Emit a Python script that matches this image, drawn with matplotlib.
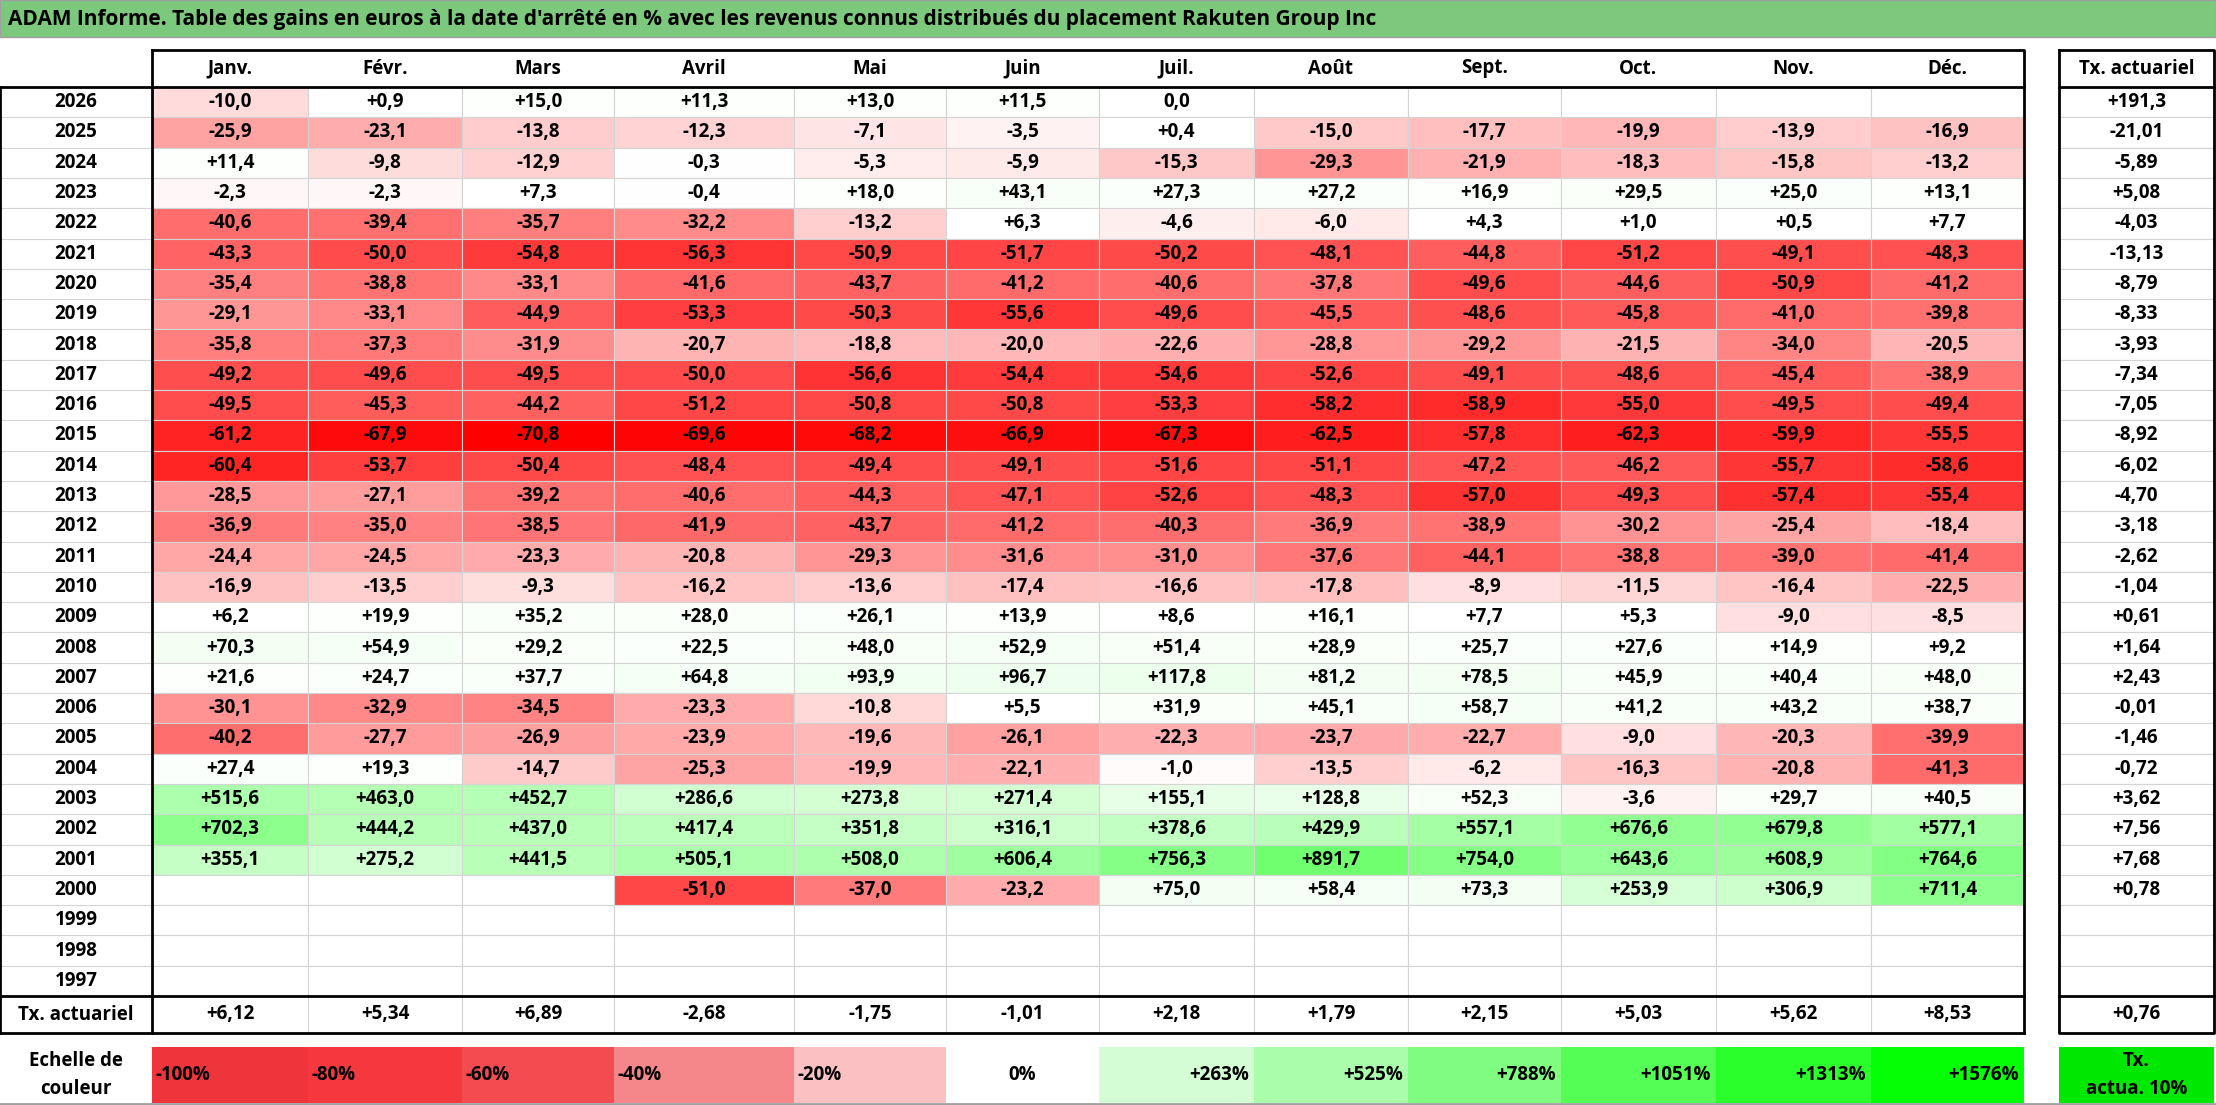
import matplotlib
matplotlib.use("Agg")
import matplotlib.pyplot as plt
from matplotlib.patches import Rectangle

plt.rcParams["font.family"] = ["Open Sans", "DejaVu Sans"]

TITLE = ("ADAM Informe. Table des gains en euros à la date d'arrêté en % avec les revenus "
         "connus distribués du placement Rakuten Group Inc")
MONTHS = ["Janv.", "Févr.", "Mars", "Avril", "Mai", "Juin", "Juil.", "Août",
          "Sept.", "Oct.", "Nov.", "Déc."]
YEARS = list(range(2026, 1996, -1))
N = None
VALUES = [
    [-10.0, 0.9, 15.0, 11.3, 13.0, 11.5, 0.0, N, N, N, N, N],
    [-25.9, -23.1, -13.8, -12.3, -7.1, -3.5, 0.4, -15.0, -17.7, -19.9, -13.9, -16.9],
    [11.4, -9.8, -12.9, -0.3, -5.3, -5.9, -15.3, -29.3, -21.9, -18.3, -15.8, -13.2],
    [-2.3, -2.3, 7.3, -0.4, 18.0, 43.1, 27.3, 27.2, 16.9, 29.5, 25.0, 13.1],
    [-40.6, -39.4, -35.7, -32.2, -13.2, 6.3, -4.6, -6.0, 4.3, 1.0, 0.5, 7.7],
    [-43.3, -50.0, -54.8, -56.3, -50.9, -51.7, -50.2, -48.1, -44.8, -51.2, -49.1, -48.3],
    [-35.4, -38.8, -33.1, -41.6, -43.7, -41.2, -40.6, -37.8, -49.6, -44.6, -50.9, -41.2],
    [-29.1, -33.1, -44.9, -53.3, -50.3, -55.6, -49.6, -45.5, -48.6, -45.8, -41.0, -39.8],
    [-35.8, -37.3, -31.9, -20.7, -18.8, -20.0, -22.6, -28.8, -29.2, -21.5, -34.0, -20.5],
    [-49.2, -49.6, -49.5, -50.0, -56.6, -54.4, -54.6, -52.6, -49.1, -48.6, -45.4, -38.9],
    [-49.5, -45.3, -44.2, -51.2, -50.8, -50.8, -53.3, -58.2, -58.9, -55.0, -49.5, -49.4],
    [-61.2, -67.9, -70.8, -69.6, -68.2, -66.9, -67.3, -62.5, -57.8, -62.3, -59.9, -55.5],
    [-60.4, -53.7, -50.4, -48.4, -49.4, -49.1, -51.6, -51.1, -47.2, -46.2, -55.7, -58.6],
    [-28.5, -27.1, -39.2, -40.6, -44.3, -47.1, -52.6, -48.3, -57.0, -49.3, -57.4, -55.4],
    [-36.9, -35.0, -38.5, -41.9, -43.7, -41.2, -40.3, -36.9, -38.9, -30.2, -25.4, -18.4],
    [-24.4, -24.5, -23.3, -20.8, -29.3, -31.6, -31.0, -37.6, -44.1, -38.8, -39.0, -41.4],
    [-16.9, -13.5, -9.3, -16.2, -13.6, -17.4, -16.6, -17.8, -8.9, -11.5, -16.4, -22.5],
    [6.2, 19.9, 35.2, 28.0, 26.1, 13.9, 8.6, 16.1, 7.7, 5.3, -9.0, -8.5],
    [70.3, 54.9, 29.2, 22.5, 48.0, 52.9, 51.4, 28.9, 25.7, 27.6, 14.9, 9.2],
    [21.6, 24.7, 37.7, 64.8, 93.9, 96.7, 117.8, 81.2, 78.5, 45.9, 40.4, 48.0],
    [-30.1, -32.9, -34.5, -23.3, -10.8, 5.5, 31.9, 45.1, 58.7, 41.2, 43.2, 38.7],
    [-40.2, -27.7, -26.9, -23.9, -19.6, -26.1, -22.3, -23.7, -22.7, -9.0, -20.3, -39.9],
    [27.4, 19.3, -14.7, -25.3, -19.9, -22.1, -1.0, -13.5, -6.2, -16.3, -20.8, -41.3],
    [515.6, 463.0, 452.7, 286.6, 273.8, 271.4, 155.1, 128.8, 52.3, -3.6, 29.7, 40.5],
    [702.3, 444.2, 437.0, 417.4, 351.8, 316.1, 378.6, 429.9, 557.1, 676.6, 679.8, 577.1],
    [355.1, 275.2, 441.5, 505.1, 508.0, 606.4, 756.3, 891.7, 754.0, 643.6, 608.9, 764.6],
    [N, N, N, -51.0, -37.0, -23.2, 75.0, 58.4, 73.3, 253.9, 306.9, 711.4],
    [N] * 12, [N] * 12, [N] * 12,
]
TX_YEAR = ["+191,3", "-21,01", "-5,89", "+5,08", "-4,03", "-13,13", "-8,79", "-8,33",
           "-3,93", "-7,34", "-7,05", "-8,92", "-6,02", "-4,70", "-3,18", "-2,62",
           "-1,04", "+0,61", "+1,64", "+2,43", "-0,01", "-1,46", "-0,72", "+3,62",
           "+7,56", "+7,68", "+0,78", "", "", ""]
TX_MONTH = ["+6,12", "+5,34", "+6,89", "-2,68", "-1,75", "-1,01", "+2,18", "+1,79",
            "+2,15", "+5,03", "+5,62", "+8,53"]
TX_ALL = "+0,76"
SCALE_LABELS = ["-100%", "-80%", "-60%", "-40%", "-20%", "0%", "+263%", "+525%",
                "+788%", "+1051%", "+1313%", "+1576%"]
SCALE_COLORS = ["#F0343C", "#F4383E", "#F34B50", "#F5868A", "#FBC0C2", "#FFFFFF",
                "#D5FDD5", "#AAFDAA", "#80FD80", "#55FE55", "#2BFF2B", "#05FF05"]

NEG_MIN = -70.8
POS_MAX = 1576.0


def cell_color(v):
    if v is None:
        return "white"
    if v < 0:
        t = min(v / NEG_MIN, 1.0)
        return (1.0, 1 - t, 1 - t)
    t = min(v / POS_MAX, 1.0)
    return (1 - t, 1.0, 1 - t)


def fmt(v):
    if v is None:
        return ""
    if v == 0:
        return "0,0"
    return f"{v:+.1f}".replace(".", ",")


# layout in pixels
W, H = 2216, 1105
col_x = [152, 308, 462, 614, 794, 946, 1099, 1254, 1408, 1561, 1716, 1871, 2024]
tx_x0, tx_x1 = 2059, 2214
head_y0, head_y1 = 50, 87
row_h = 30.3
txrow_y0, txrow_y1 = 996, 1033
leg_y0, leg_y1 = 1047, 1103
FS = 13.5

fig = plt.figure(figsize=(W / 100, H / 100), dpi=100)
ax = fig.add_axes([0, 0, 1, 1])
ax.set_xlim(0, W)
ax.set_ylim(H, 0)
ax.axis("off")

# title bar
ax.add_patch(Rectangle((0, 0), W, 37, facecolor="#7CC87C", edgecolor="#a0a0a0", lw=1))
ax.text(8, 19, TITLE, fontsize=15, fontweight="bold", va="center", ha="left")

# header
for j, m in enumerate(MONTHS):
    xc = (col_x[j] + col_x[j + 1]) / 2
    ax.text(xc, (head_y0 + head_y1) / 2, m, fontsize=FS, fontweight="bold",
            ha="center", va="center")
ax.text((tx_x0 + tx_x1) / 2, (head_y0 + head_y1) / 2, "Tx. actuariel", fontsize=FS,
        fontweight="bold", ha="center", va="center")

# body
for i, yr in enumerate(YEARS):
    y0 = head_y1 + i * row_h
    yc = y0 + row_h / 2
    ax.text(76, yc, str(yr), fontsize=FS, fontweight="bold", ha="center", va="center")
    for j in range(12):
        v = VALUES[i][j]
        ax.add_patch(Rectangle((col_x[j], y0), col_x[j + 1] - col_x[j], row_h,
                               facecolor=cell_color(v), edgecolor="#d4d4d4", lw=0.8))
        ax.text((col_x[j] + col_x[j + 1]) / 2, yc, fmt(v), fontsize=FS,
                fontweight="bold", ha="center", va="center")
    ax.add_patch(Rectangle((tx_x0, y0), tx_x1 - tx_x0, row_h, facecolor="white",
                           edgecolor="#d4d4d4", lw=0.8))
    ax.text((tx_x0 + tx_x1) / 2, yc, TX_YEAR[i], fontsize=FS, fontweight="bold",
            ha="center", va="center")
    ax.plot([0, col_x[0]], [y0 + row_h, y0 + row_h], color="#d4d4d4", lw=0.8)

# tx actuariel row
yc = (txrow_y0 + txrow_y1) / 2
ax.text(76, yc, "Tx. actuariel", fontsize=FS, fontweight="bold", ha="center", va="center")
for j, s in enumerate(TX_MONTH):
    ax.plot([col_x[j + 1]] * 2, [txrow_y0, txrow_y1], color="#d4d4d4", lw=0.8)
    ax.text((col_x[j] + col_x[j + 1]) / 2, yc, s, fontsize=FS, fontweight="bold",
            ha="center", va="center")
ax.text((tx_x0 + tx_x1) / 2, yc, TX_ALL, fontsize=FS, fontweight="bold",
        ha="center", va="center")

# black frames
k = dict(color="black", lw=2)
ax.plot([col_x[0], col_x[-1], col_x[-1]], [head_y0, head_y0, txrow_y1], **k)
ax.plot([0, col_x[-1]], [head_y1, head_y1], **k)
ax.plot([0, col_x[-1]], [txrow_y0, txrow_y0], **k)
ax.plot([0, col_x[-1]], [txrow_y1, txrow_y1], **k)
ax.plot([0, 0], [head_y1, txrow_y1], **k)
ax.plot([col_x[0], col_x[0]], [head_y0, txrow_y1], **k)
ax.plot([tx_x0, tx_x1, tx_x1, tx_x0, tx_x0],
        [head_y0, head_y0, txrow_y1, txrow_y1, head_y0], **k)
ax.plot([tx_x0, tx_x1], [head_y1, head_y1], **k)
ax.plot([tx_x0, tx_x1], [txrow_y0, txrow_y0], **k)

# colour scale
lc = (leg_y0 + leg_y1) / 2
ax.text(76, lc, "Echelle de\ncouleur", fontsize=FS, fontweight="bold", ha="center",
        va="center", linespacing=1.5)
for j, (lab, col) in enumerate(zip(SCALE_LABELS, SCALE_COLORS)):
    ax.add_patch(Rectangle((col_x[j], leg_y0), col_x[j + 1] - col_x[j], leg_y1 - leg_y0,
                           facecolor=col, edgecolor="none"))
    if lab.startswith("-"):
        ax.text(col_x[j] + 3, lc, lab, fontsize=FS, fontweight="bold", ha="left", va="center")
    elif lab.startswith("+"):
        ax.text(col_x[j + 1] - 5, lc, lab, fontsize=FS, fontweight="bold", ha="right",
                va="center")
    else:
        ax.text((col_x[j] + col_x[j + 1]) / 2, lc, lab, fontsize=FS, fontweight="bold",
                ha="center", va="center")
ax.add_patch(Rectangle((tx_x0, leg_y0), tx_x1 - tx_x0, leg_y1 - leg_y0,
                       facecolor="#00E800", edgecolor="none"))
ax.text((tx_x0 + tx_x1) / 2, lc, "Tx.\nactua. 10%", fontsize=FS, fontweight="bold",
        ha="center", va="center", linespacing=1.5)
ax.plot([0, W], [H - 1, H - 1], color="#a0a0a0", lw=2)

fig.savefig("out.png", dpi=100)
